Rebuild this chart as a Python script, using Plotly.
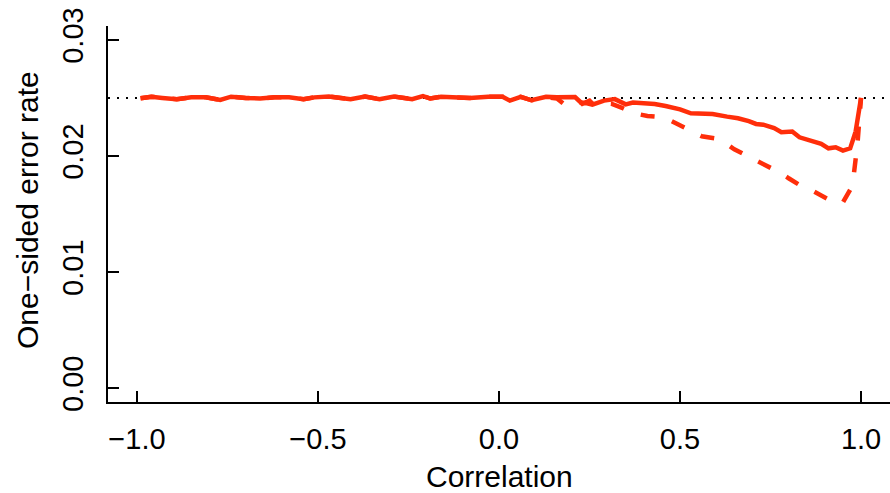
import plotly.graph_objects as go

# Correlation values (x)
corr_solid = [-0.99, -0.96, -0.93, -0.89, -0.85, -0.81, -0.77, -0.74, -0.70, -0.66,
              -0.62, -0.58, -0.54, -0.51, -0.47, -0.43, -0.41, -0.37, -0.33, -0.29,
              -0.24, -0.21, -0.19, -0.16, -0.12, -0.08, -0.03, 0.01, 0.03, 0.06,
              0.09, 0.13, 0.16, 0.19, 0.21, 0.23, 0.25, 0.26, 0.29, 0.32,
              0.35, 0.37, 0.40, 0.43, 0.46, 0.50, 0.53, 0.56, 0.59, 0.63,
              0.66, 0.69, 0.71, 0.73, 0.76, 0.78, 0.81, 0.83, 0.86, 0.89,
              0.91, 0.93, 0.95, 0.97, 0.985, 1.0]
rate_solid = [0.02497, 0.02510, 0.02500, 0.02489, 0.02505, 0.02505, 0.02483, 0.02511, 0.02500, 0.02495,
              0.02505, 0.02505, 0.02490, 0.02505, 0.02512, 0.02495, 0.02490, 0.02512, 0.02490, 0.02512,
              0.02490, 0.02516, 0.02495, 0.02510, 0.02505, 0.02500, 0.02510, 0.02510, 0.02477, 0.02510,
              0.02480, 0.02510, 0.02505, 0.02505, 0.02508, 0.02450, 0.02477, 0.02445, 0.02477, 0.02490,
              0.02445, 0.02460, 0.02455, 0.02448, 0.02431, 0.02402, 0.02368, 0.02365, 0.02362, 0.02339,
              0.02325, 0.02300, 0.02276, 0.02270, 0.02240, 0.02205, 0.02210, 0.02161, 0.02135, 0.02105,
              0.02066, 0.02075, 0.02046, 0.02066, 0.02210, 0.02500]

corr_dashed = [-0.99, -0.96, -0.93, -0.89, -0.85, -0.81, -0.77, -0.74, -0.70, -0.66,
               -0.62, -0.58, -0.54, -0.51, -0.47, -0.43, -0.41, -0.37, -0.33, -0.29,
               -0.24, -0.21, -0.19, -0.16, -0.12, -0.08, -0.03, 0.01, 0.03, 0.06,
               0.09, 0.13, 0.16, 0.18, 0.20, 0.22, 0.24, 0.26, 0.28, 0.31,
               0.34, 0.37, 0.41, 0.43, 0.47, 0.51, 0.53, 0.56, 0.60, 0.62,
               0.65, 0.68, 0.71, 0.75, 0.78, 0.80, 0.83, 0.86, 0.89, 0.93,
               0.95, 0.97, 0.98, 0.99, 1.0]
rate_dashed = [0.02497, 0.02510, 0.02500, 0.02489, 0.02505, 0.02505, 0.02483, 0.02511, 0.02500, 0.02495,
               0.02505, 0.02505, 0.02490, 0.02505, 0.02512, 0.02495, 0.02490, 0.02512, 0.02490, 0.02512,
               0.02490, 0.02516, 0.02495, 0.02510, 0.02505, 0.02500, 0.02510, 0.02510, 0.02477, 0.02510,
               0.02480, 0.02505, 0.02495, 0.02445, 0.02430, 0.02465, 0.02455, 0.02440, 0.02455, 0.02450,
               0.02415, 0.02370, 0.02345, 0.02340, 0.02310, 0.02250, 0.02210, 0.02170, 0.02150, 0.02123,
               0.02058, 0.02010, 0.01966, 0.01894, 0.01850, 0.01808, 0.01750, 0.01710, 0.01655, 0.01592,
               0.01600, 0.01710, 0.01840, 0.02100, 0.02500]

nominal_rate = 0.025
x_ticks = [-1.0, -0.5, 0.0, 0.5, 1.0]
x_ticklabels = ["\u22121.0", "\u22120.5", "0.0", "0.5", "1.0"]
y_ticks = [0.00, 0.01, 0.02, 0.03]
y_ticklabels = ["0.00", "0.01", "0.02", "0.03"]
x_title = "Correlation"
y_title = "One\u2212sided error rate"

red = "#FF2E0A"
font = "Liberation Sans, Arial, Helvetica, sans-serif"

fig = go.Figure()
fig.add_trace(go.Scatter(x=corr_dashed, y=rate_dashed, mode="lines",
                         line=dict(color=red, width=4.5, dash="14px,18px"),
                         showlegend=False, hoverinfo="skip"))
fig.add_trace(go.Scatter(x=corr_solid, y=rate_solid, mode="lines",
                         line=dict(color=red, width=4.5),
                         showlegend=False, hoverinfo="skip"))

fig.add_shape(type="line", xref="paper", x0=0, x1=1, yref="y",
              y0=nominal_rate, y1=nominal_rate,
              line=dict(color="black", width=2, dash="2px,7px"), layer="below")

fig.add_annotation(text=x_title, xref="paper", yref="paper", x=0.5, y=0,
                   xanchor="center", yanchor="middle", yshift=-74, showarrow=False,
                   font=dict(size=30, family=font, color="black"))
fig.add_annotation(text=y_title, xref="paper", yref="paper", x=0, y=0.5,
                   xanchor="center", yanchor="middle", xshift=-81, yshift=4,
                   textangle=-90, showarrow=False,
                   font=dict(size=30, family=font, color="black"))

fig.update_layout(
    width=890, height=493,
    margin=dict(l=108, r=0, t=26, b=91),
    paper_bgcolor="white", plot_bgcolor="white",
    font=dict(family=font, size=29, color="black"),
    xaxis=dict(range=[-1.08, 1.08], tickvals=x_ticks, ticktext=x_ticklabels,
               showgrid=False, zeroline=False, showline=True, linecolor="black",
               linewidth=2, mirror=False, ticks="inside", ticklen=11, tickwidth=2,
               tickcolor="black", ticklabelstandoff=10, automargin=False),
    yaxis=dict(range=[-0.0012, 0.0312], tickvals=y_ticks, ticktext=y_ticklabels,
               showgrid=False, zeroline=False, showline=True, linecolor="black",
               linewidth=2, mirror=False, ticks="inside", ticklen=11, tickwidth=2,
               tickcolor="black", tickangle=-90, ticklabelstandoff=11, automargin=False),
)

fig.write_html("out.html", config={"displayModeBar": False},
               post_script="document.body.style.margin='0px';document.body.style.overflow='hidden';")
